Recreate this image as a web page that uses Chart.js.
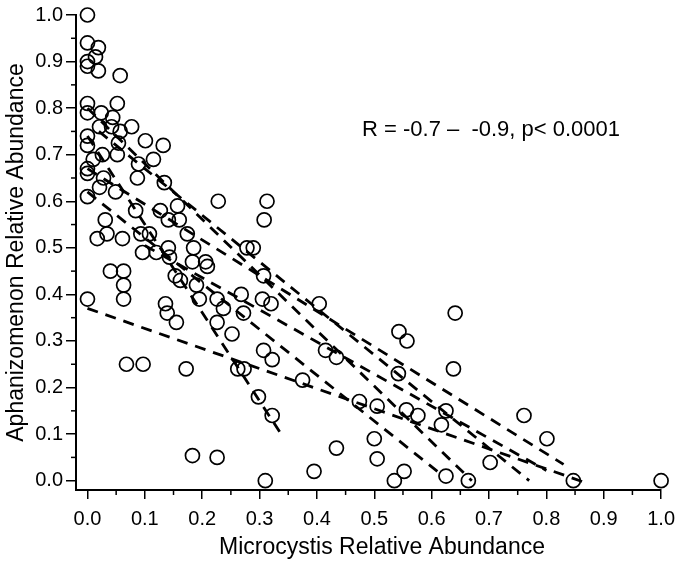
<!DOCTYPE html>
<html><head><meta charset="utf-8">
<script src="https://cdn.jsdelivr.net/npm/chart.js@4.4.1/dist/chart.umd.min.js"></script>
<style>html,body{margin:0;padding:0;background:#fff}#wrap{width:683px;height:563px}</style>
</head><body><div id="wrap"><canvas id="c" width="683" height="563"></canvas></div>
<script>
// Observed samples
const microcystis = [0,0,0.019,0.014,0,0,0.019,0.057,0,0.052,
  0,0.024,0.044,0.021,0.042,0.077,0.057,0,0.101,0.054,
  0,0.132,0.026,0.052,0.01,0.115,0.089,0,0,0.028,
  0.087,0.134,0.021,0.049,0,0.228,0.313,0.308,0.084,0.127,
  0.157,0.031,0.141,0.16,0.017,0.034,0.061,0.093,0.108,0.174,
  0.096,0.12,0.141,0.143,0.185,0.183,0.206,0.209,0.278,0.289,
  0.04,0.063,0.153,0.162,0.063,0.19,0.307,0,0.063,0.195,
  0.226,0.237,0.268,0.305,0.32,0.404,0.136,0.139,0.272,0.641,
  0.155,0.226,0.252,0.543,0.557,0.307,0.415,0.322,0.434,0.068,
  0.097,0.172,0.262,0.273,0.638,0.542,0.375,0.298,0.474,0.505,
  0.556,0.576,0.625,0.322,0.761,0.617,0.5,0.801,0.434,0.183,
  0.226,0.505,0.702,0.395,0.552,0.625,0.31,0.535,0.664,0.847,
  1.0];
const aphanizomenon = [1.0,0.94,0.93,0.91,0.90,0.89,0.88,0.87,0.81,0.81,
  0.79,0.79,0.78,0.76,0.76,0.76,0.75,0.74,0.73,0.725,
  0.72,0.72,0.70,0.70,0.69,0.69,0.68,0.67,0.66,0.65,
  0.65,0.64,0.63,0.62,0.61,0.60,0.60,0.56,0.58,0.58,
  0.59,0.56,0.56,0.56,0.52,0.53,0.52,0.53,0.53,0.53,
  0.49,0.49,0.50,0.48,0.50,0.47,0.47,0.46,0.50,0.50,
  0.45,0.45,0.44,0.43,0.42,0.42,0.44,0.39,0.39,0.39,
  0.39,0.37,0.40,0.39,0.38,0.38,0.38,0.36,0.36,0.36,
  0.34,0.34,0.315,0.32,0.30,0.28,0.28,0.26,0.265,0.25,
  0.25,0.24,0.24,0.24,0.24,0.23,0.216,0.18,0.17,0.16,
  0.152,0.14,0.15,0.14,0.14,0.12,0.09,0.09,0.07,0.054,
  0.05,0.047,0.039,0.02,0.02,0.01,0.0,0.0,0.0,0.0,
  0.0];

// Regression lines (start/end points)
const fitStartX = [0.00, 0.00, 0.00, 0.00, 0.02, 0.00, 0.10];
const fitStartY = [0.37, 0.74, 0.80, 0.62, 0.75, 0.67, 0.505];
const fitEndX   = [0.87, 0.335, 0.67, 0.61, 0.77, 0.83, 0.80];
const fitEndY   = [-0.005, 0.105, 0.00, 0.02, 0.00, 0.035, 0.022];

const xTickLabels = ['0.0','0.1','0.2','0.3','0.4','0.5','0.6','0.7','0.8','0.9','1.0'];
const yTickLabels = ['0.0','0.1','0.2','0.3','0.4','0.5','0.6','0.7','0.8','0.9','1.0'];
const minorTickValues = [0.05,0.15,0.25,0.35,0.45,0.55,0.65,0.75,0.85,0.95];

const xTitle = 'Microcystis Relative Abundance';
const yTitle = 'Aphanizomenon Relative Abundance';
const annotationText = 'R = -0.7 \u2013  -0.9, p< 0.0001';

const FONT = "'Liberation Sans', Arial, sans-serif";
const NARROW = "'Liberation Sans Narrow', 'Arial Narrow', 'Liberation Sans', sans-serif";

const datasets = [];
for (let i = 0; i < fitStartX.length; i++) {
  datasets.push({
    type: 'line',
    data: [{x: fitStartX[i], y: fitStartY[i]}, {x: fitEndX[i], y: fitEndY[i]}],
    borderColor: '#000', borderWidth: 2.8, borderDash: [11, 8],
    pointRadius: 0, fill: false, showLine: true, clip: false
  });
}
datasets.push({
  type: 'scatter',
  data: microcystis.map((x, i) => ({x: x, y: aphanizomenon[i]})),
  pointStyle: 'circle', pointRadius: 7, borderWidth: 1.7,
  borderColor: '#000', backgroundColor: 'rgba(0,0,0,0)', clip: false
});

const extras = {
  id: 'extras',
  afterDraw(chart) {
    const ctx = chart.ctx, xs = chart.scales.x, ys = chart.scales.y;
    ctx.save();
    ctx.strokeStyle = '#000'; ctx.lineWidth = 1.5;
    minorTickValues.forEach(v => {
      const px = xs.getPixelForValue(v);
      ctx.beginPath(); ctx.moveTo(px, xs.top); ctx.lineTo(px, xs.top + 5); ctx.stroke();
      const py = ys.getPixelForValue(v);
      ctx.beginPath(); ctx.moveTo(ys.right, py); ctx.lineTo(ys.right - 5, py); ctx.stroke();
    });
    ctx.fillStyle = '#000';
    ctx.font = '23px ' + FONT;
    ctx.textAlign = 'center'; ctx.textBaseline = 'middle';
    ctx.fillText(xTitle, 382, 548);
    ctx.font = '22px ' + FONT;
    ctx.textAlign = 'left';
    ctx.fillText(annotationText, 362, 130);
    ctx.restore();
  }
};

new Chart(document.getElementById('c'), {
  type: 'scatter',
  data: { datasets },
  plugins: [extras],
  options: {
    responsive: false, animation: false, devicePixelRatio: 1,
    layout: { padding: { left: 0, top: 14, right: 19, bottom: 0 } },
    plugins: { legend: { display: false }, tooltip: { enabled: false } },
    scales: {
      x: {
        type: 'linear', min: -0.02, max: 1.0,
        afterFit(s) { s.height = 73; },
        afterBuildTicks(s) { s.ticks = xTickLabels.map(l => ({value: parseFloat(l)})); },
        grid: { drawOnChartArea: false, drawTicks: true, tickLength: 9, color: '#000', lineWidth: 1.5 },
        border: { display: true, color: '#000', width: 2 },
        ticks: { color: '#000', font: { family: NARROW, size: 20 }, padding: 8, maxRotation: 0,
          callback: (v, i) => xTickLabels[i] }
      },
      y: {
        type: 'linear', min: -0.02, max: 1.0,
        afterFit(s) { s.width = 76; },
        afterBuildTicks(s) { s.ticks = yTickLabels.map(l => ({value: parseFloat(l)})); },
        grid: { drawOnChartArea: false, drawTicks: true, tickLength: 10, color: '#000', lineWidth: 1.5 },
        border: { display: true, color: '#000', width: 2 },
        title: { display: true, text: yTitle, color: '#000', font: { family: FONT, size: 23 }, padding: { top: 3, bottom: 0 } },
        ticks: { color: '#000', font: { family: NARROW, size: 20 }, padding: 3,
          callback: (v, i) => yTickLabels[i] }
      }
    }
  }
});
</script>
</body></html>
